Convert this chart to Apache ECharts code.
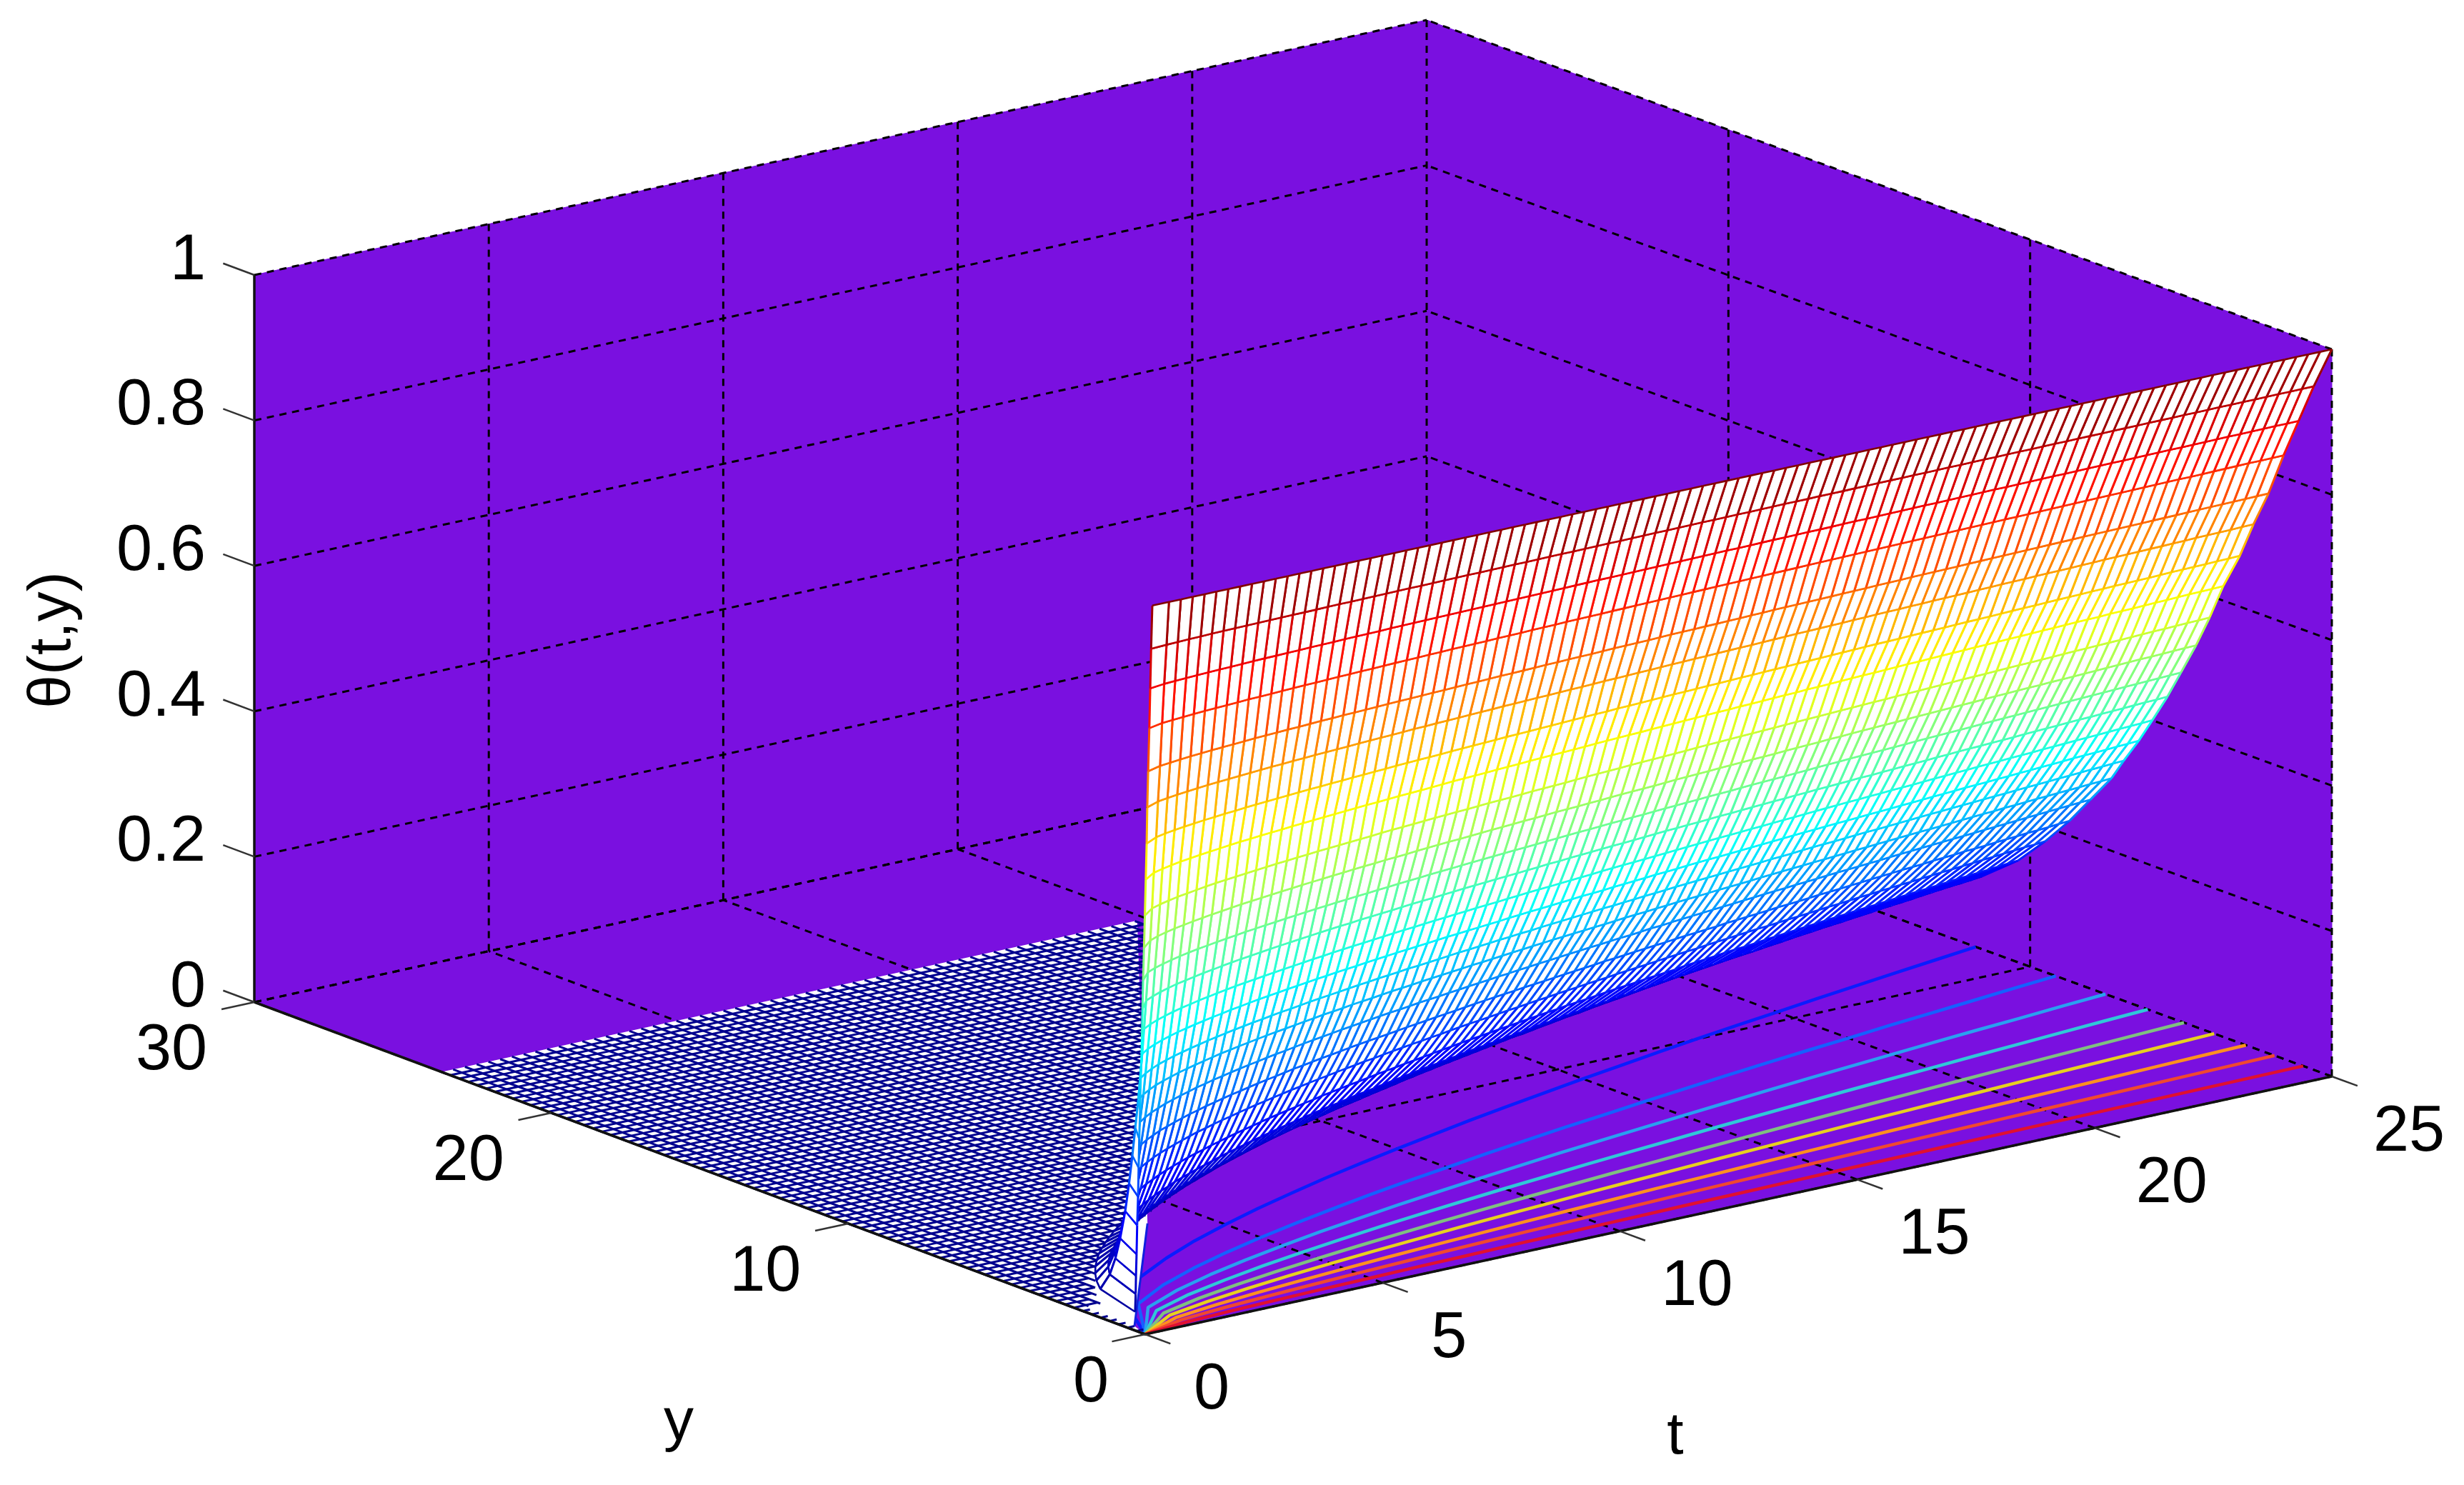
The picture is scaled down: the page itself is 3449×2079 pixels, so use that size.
<!DOCTYPE html>
<html>
<head>
<meta charset="utf-8">
<style>html,body{margin:0;padding:0;background:#fff}#chart{width:3449px;height:2079px}</style>
<script src="https://cdn.jsdelivr.net/npm/echarts@6/dist/echarts.min.js"></script>
</head>
<body>
<div id="chart"></div>
<script>
// axes
const tTicks = [0, 5, 10, 15, 20, 25]
const yTicks = [0, 10, 20, 30]
const zTicks = [0, 0.2, 0.4, 0.6, 0.8, 1]
const zLabels = ['0', '0.2', '0.4', '0.6', '0.8', '1']

// mesh: t of each column, theta of each curve, y (x100) of that curve at each column
const tCols = [0.15,0.5,0.75,1,1.25,1.5,1.75,2,2.25,2.5,2.75,3,3.25,3.5,3.75,4,4.25,4.5,4.75,5,5.25,5.5,5.75,6,6.25,6.5,6.75,7,7.25,7.5,7.75,8,8.25,8.5,8.75,9,9.25,9.5,9.75,10,10.25,10.5,10.75,11,11.25,11.5,11.75,12,12.25,12.5,12.75,13,13.25,13.5,13.75,14,14.25,14.5,14.75,15,15.25,15.5,15.75,16,16.25,16.5,16.75,17,17.25,17.5,17.75,18,18.25,18.5,18.75,19,19.25,19.5,19.75,20,20.25,20.5,20.75,21,21.25,21.5,21.75,22,22.25,22.5,22.75,23,23.25,23.5,23.75,24,24.25,24.5,24.75,25]
const levels = [0.94, 0.885, 0.83, 0.77, 0.72, 0.67, 0.62, 0.57, 0.525, 0.48, 0.44, 0.40, 0.365, 0.33, 0.30, 0.26, 0.22, 0.18, 0.14, 0.10, 0.07, 0.045, 0.02]
const yTable = [
  [4,8,10,12,13,15,16,17,18,19,20,21,22,22,23,24,25,25,26,27,27,28,29,29,30,31,31,32,32,33,33,34,34,35,36,36,36,37,37,38,38,39,39,40,40,41,41,42,42,42,43,43,44,44,45,45,45,46,46,46,47,47,48,48,48,49,49,49,50,50,51,51,51,52,52,52,53,53,53,54,54,54,55,55,55,56,56,56,57,57,57,58,58,58,58,59,59,59,60,60],
  [7,16,19,22,25,27,29,31,33,35,37,38,40,41,43,44,45,47,48,49,50,52,53,54,55,56,57,58,59,60,61,62,63,64,65,66,67,68,69,70,70,71,72,73,74,75,75,76,77,78,79,79,80,81,82,82,83,84,84,85,86,87,87,88,89,89,90,91,91,92,93,93,94,95,95,96,96,97,98,98,99,100,100,101,101,102,103,103,104,104,105,105,106,107,107,108,108,109,109,110],
  [10,23,28,32,36,39,42,45,48,51,53,55,58,60,62,64,66,68,70,72,73,75,77,78,80,82,83,85,86,88,89,91,92,93,95,96,97,99,100,101,102,104,105,106,107,108,110,111,112,113,114,115,116,118,119,120,121,122,123,124,125,126,127,128,129,130,131,132,133,134,135,136,137,138,139,140,140,141,142,143,144,145,146,147,148,148,149,150,151,152,153,153,154,155,156,157,158,158,159,160],
  [14,30,36,42,47,51,56,59,63,66,70,73,76,79,81,84,87,89,92,94,96,98,101,103,105,107,109,111,113,115,117,119,121,122,124,126,128,129,131,133,134,136,138,139,141,142,144,146,147,148,150,151,153,154,156,157,159,160,161,163,164,165,167,168,169,171,172,173,175,176,177,178,179,181,182,183,184,185,187,188,189,190,191,193,194,195,196,197,198,199,200,201,202,204,205,206,207,208,209,210],
  [17,37,45,52,58,64,69,74,78,82,86,90,94,97,101,104,107,110,113,116,119,122,125,127,130,133,135,138,140,142,145,147,149,152,154,156,158,160,162,164,166,168,171,172,174,176,178,180,182,184,186,187,189,191,193,194,196,198,200,202,203,205,206,208,210,211,213,215,216,218,219,221,222,224,225,227,228,230,231,232,234,236,237,238,240,241,243,244,245,247,248,249,251,252,254,255,256,257,259,260],
  [19,43,53,61,68,75,81,86,92,96,101,106,110,114,118,122,126,129,133,136,140,143,146,149,153,156,159,161,164,167,170,173,175,178,181,183,185,188,190,193,195,198,200,202,205,207,209,211,214,216,218,220,222,224,226,228,230,232,234,236,238,240,242,244,246,248,250,252,253,255,257,259,260,262,264,266,267,269,271,273,275,276,278,280,281,283,285,286,288,289,291,292,294,296,297,299,300,302,303,305],
  [22,51,62,72,81,88,95,102,108,114,120,125,130,135,139,144,148,153,157,161,165,169,173,176,180,184,187,190,194,197,201,204,207,210,213,216,219,222,225,228,230,233,236,239,242,244,247,249,252,255,257,260,262,265,267,269,272,274,276,279,281,283,286,288,290,292,295,297,299,301,303,306,307,310,312,314,316,318,320,322,324,326,328,330,332,334,336,338,339,342,343,345,347,349,351,353,355,356,358,360],
  [25,57,70,81,91,99,107,115,122,128,134,140,146,151,157,162,167,172,177,181,185,190,194,198,203,207,211,214,218,222,226,229,232,236,240,243,246,249,253,256,259,262,266,269,272,275,278,281,284,286,289,292,295,298,301,303,306,309,311,314,316,319,322,324,326,329,332,334,337,339,341,344,346,348,351,353,355,358,360,362,365,367,369,371,373,375,378,380,382,384,386,388,390,393,395,397,399,401,403,405],
  [28,63,78,90,101,110,119,127,135,142,149,156,162,168,174,180,185,191,196,201,206,211,216,221,225,230,234,238,243,247,251,255,258,262,266,270,274,277,281,284,288,292,295,298,302,305,309,312,315,318,321,324,328,331,334,337,340,343,346,349,351,354,357,360,363,365,369,371,374,377,379,382,384,387,390,392,395,397,400,402,405,408,410,413,415,417,420,422,424,427,429,432,434,437,439,441,443,446,448,450],
  [31,71,87,100,112,123,133,142,150,158,166,173,181,187,194,200,206,212,218,224,229,235,240,245,250,255,260,265,270,274,279,283,287,292,296,300,304,308,312,316,320,324,328,332,336,339,343,347,350,354,357,361,364,368,371,374,378,381,384,388,391,394,397,400,403,406,410,413,416,419,422,425,427,430,433,436,439,442,445,447,450,453,456,459,461,464,467,469,472,475,477,480,482,485,488,490,493,495,498,500],
  [33,77,94,109,122,134,144,154,164,172,181,189,197,204,211,218,225,231,238,244,250,256,262,267,273,278,283,288,294,299,304,308,313,318,323,327,331,336,340,344,349,353,358,361,366,370,374,378,382,385,389,393,397,401,404,408,411,415,419,422,426,429,433,436,439,443,446,450,453,456,459,463,465,469,472,475,478,481,485,487,491,494,496,500,502,505,508,511,514,517,520,523,525,529,531,534,537,540,542,545],
  [35,84,103,119,133,146,158,168,179,188,198,206,215,223,230,238,245,252,259,266,273,279,286,292,298,303,309,315,321,326,331,337,342,347,352,357,362,367,371,376,381,386,390,394,399,403,408,412,417,421,425,429,433,437,441,445,449,453,457,461,465,468,472,476,480,483,487,491,494,498,502,505,508,512,515,519,522,525,529,532,536,539,542,546,549,552,555,558,561,565,568,571,574,577,580,583,586,589,592,595],
  [37,90,111,128,143,157,170,181,192,202,212,221,231,239,248,256,264,271,279,286,293,300,307,314,320,326,333,339,345,351,356,362,367,373,379,384,389,394,399,404,410,415,420,424,429,434,439,444,448,452,457,461,466,470,475,479,483,488,492,496,500,504,508,512,516,520,524,528,532,536,540,543,547,550,554,558,561,565,569,572,576,580,583,587,590,593,597,600,604,607,611,614,617,621,624,627,630,634,637,640],
  [40,97,119,138,155,169,183,195,207,218,229,239,249,258,267,276,284,293,301,308,316,324,331,338,345,352,359,365,372,378,384,391,396,402,408,414,420,425,431,436,442,447,453,457,463,468,473,478,483,488,493,497,502,507,512,516,521,526,530,535,539,543,548,552,556,560,565,569,573,578,582,586,589,593,598,602,605,609,613,617,621,625,629,633,636,640,644,647,651,655,658,662,665,669,673,676,680,683,687,690],
  [41,103,126,146,164,179,193,207,219,231,242,253,264,273,283,292,301,310,318,326,334,342,350,358,365,372,380,386,393,400,407,413,419,426,432,438,444,450,456,461,467,473,479,484,490,495,501,506,511,516,521,526,531,537,542,546,551,556,561,566,570,575,580,584,588,593,598,602,607,611,615,620,623,628,632,637,640,645,649,653,657,661,665,669,673,677,681,685,688,693,696,700,704,708,712,715,719,723,726,730],
  [44,113,138,160,179,196,212,226,240,253,266,277,289,299,310,320,330,339,349,358,366,375,384,392,400,408,416,423,431,438,446,453,459,466,474,480,486,493,499,506,512,518,525,530,537,542,549,554,560,566,571,577,582,588,594,598,604,610,614,620,625,630,635,640,645,650,655,660,665,670,674,679,683,688,693,698,702,706,711,715,720,725,729,734,738,742,746,750,754,759,763,767,771,776,780,784,788,792,796,800],
  [46,123,151,174,195,213,231,246,261,275,289,301,314,325,337,348,358,369,379,389,398,408,418,426,435,444,452,460,469,477,485,492,499,507,515,522,529,536,543,550,557,564,571,577,584,590,597,603,609,615,621,627,633,639,646,651,657,663,668,674,679,685,691,696,701,706,713,718,723,728,733,739,743,748,753,759,763,768,773,778,783,788,793,798,802,806,812,816,820,826,830,834,839,844,848,853,857,861,866,870],
  [48,134,164,190,213,233,252,269,285,300,315,329,343,355,368,380,391,403,414,425,435,446,456,466,475,485,494,503,512,521,529,538,545,554,562,570,578,585,593,600,608,616,623,630,637,644,652,658,665,672,678,685,692,698,705,711,717,724,730,736,742,748,754,760,766,771,778,784,789,795,801,807,811,817,823,828,833,839,845,849,855,861,865,871,876,881,886,891,896,902,906,911,916,922,926,931,936,941,945,950],
  [51,147,180,208,233,255,276,294,312,329,345,360,375,389,402,416,428,441,453,465,476,488,499,510,520,530,541,550,561,570,579,589,597,606,616,624,632,641,649,657,666,674,682,690,698,705,713,721,728,735,743,750,757,764,772,778,785,792,799,806,812,818,826,832,838,844,852,858,864,870,877,883,888,894,901,907,912,918,925,930,936,942,947,954,959,964,970,976,981,987,992,997,1003,1009,1014,1019,1024,1030,1035,1040],
  [53,164,201,232,260,284,307,328,348,367,385,401,419,434,449,464,478,492,506,519,531,544,557,568,580,592,603,614,625,636,646,657,666,676,687,696,705,715,724,733,742,752,761,769,778,786,796,804,812,820,828,836,844,853,861,868,876,884,891,899,906,913,921,928,935,942,950,957,964,971,978,985,991,998,1005,1012,1017,1024,1031,1037,1044,1051,1057,1064,1070,1075,1082,1088,1094,1101,1107,1112,1118,1125,1131,1137,1143,1148,1154,1160],
  [55,180,221,256,287,314,339,362,384,404,425,443,462,479,495,512,527,543,558,572,586,600,614,627,640,653,666,677,690,701,713,724,735,746,758,768,778,788,799,809,819,829,840,849,859,868,878,887,896,905,914,923,932,941,950,957,966,975,983,992,1000,1007,1016,1024,1032,1039,1048,1056,1064,1071,1079,1087,1093,1101,1108,1116,1123,1130,1138,1144,1152,1160,1166,1174,1180,1187,1194,1201,1207,1215,1221,1228,1234,1242,1248,1254,1261,1267,1274,1280],
  [56,199,244,282,316,345,374,399,423,446,468,488,509,527,546,564,581,598,615,630,646,661,677,691,705,719,733,746,760,773,785,798,809,822,835,846,857,869,880,891,902,914,925,935,946,956,967,977,987,997,1007,1017,1026,1036,1046,1055,1065,1074,1083,1093,1101,1110,1120,1128,1136,1145,1155,1163,1172,1180,1189,1197,1204,1213,1221,1230,1237,1245,1253,1261,1269,1277,1285,1293,1300,1307,1316,1323,1330,1338,1345,1352,1359,1368,1375,1382,1389,1396,1403,1410],
  [58,231,284,328,367,402,435,464,492,518,544,567,592,613,635,656,676,695,715,733,751,769,787,804,820,836,853,868,884,899,913,928,941,956,971,984,997,1010,1023,1036,1050,1063,1076,1087,1100,1112,1125,1137,1148,1159,1171,1182,1194,1205,1217,1227,1238,1250,1260,1271,1281,1291,1302,1312,1322,1332,1343,1353,1363,1373,1383,1392,1401,1410,1420,1430,1438,1448,1458,1466,1476,1486,1494,1504,1512,1520,1530,1538,1547,1556,1565,1573,1581,1591,1599,1607,1615,1624,1632,1640]
]

// contours on the floor, y of each theta level at contourT
const contourT = [0, 1, 2, 3, 4, 5, 6, 7, 8, 9, 10, 11, 12, 13, 14, 15, 16, 17, 18, 19, 20, 21, 22, 23, 24, 25]
const contourLevels = [0.1, 0.2, 0.3, 0.4, 0.5, 0.6, 0.7, 0.8, 0.9]
const contourY = [
  [0,2.36,3.34,4.08,4.72,5.27,5.78,6.24,6.68,7.08,7.46,7.82,8.18,8.51,8.83,9.15,9.44,9.74,10.02,10.29,10.55,10.82,11.07,11.32,11.56,11.8],
  [0,1.83,2.59,3.17,3.66,4.09,4.48,4.84,5.18,5.49,5.78,6.07,6.34,6.6,6.84,7.09,7.32,7.55,7.77,7.98,8.18,8.39,8.58,8.77,8.97,9.15],
  [0,1.5,2.12,2.6,3,3.35,3.68,3.97,4.25,4.5,4.74,4.97,5.2,5.41,5.61,5.81,6,6.19,6.37,6.54,6.71,6.88,7.04,7.19,7.35,7.5],
  [0,1.22,1.73,2.11,2.44,2.73,2.99,3.23,3.45,3.66,3.86,4.04,4.23,4.4,4.56,4.73,4.88,5.03,5.18,5.32,5.45,5.59,5.72,5.85,5.98,6.1],
  [0,0.98,1.39,1.7,1.96,2.19,2.4,2.59,2.77,2.94,3.1,3.25,3.4,3.53,3.67,3.8,3.92,4.04,4.16,4.27,4.38,4.49,4.6,4.7,4.8,4.9],
  [0,0.78,1.1,1.35,1.56,1.74,1.91,2.06,2.21,2.34,2.46,2.59,2.7,2.81,2.92,3.02,3.12,3.22,3.31,3.4,3.49,3.58,3.66,3.74,3.82,3.9],
  [0,0.57,0.81,0.99,1.14,1.27,1.4,1.51,1.61,1.71,1.8,1.89,1.98,2.05,2.13,2.21,2.28,2.35,2.42,2.49,2.55,2.61,2.67,2.73,2.79,2.85],
  [0,0.38,0.54,0.66,0.76,0.85,0.93,1.01,1.08,1.14,1.2,1.26,1.32,1.37,1.42,1.47,1.52,1.57,1.61,1.66,1.7,1.74,1.78,1.82,1.86,1.9],
  [0,0.19,0.27,0.33,0.38,0.42,0.47,0.5,0.54,0.57,0.6,0.63,0.66,0.68,0.71,0.74,0.76,0.78,0.81,0.83,0.85,0.87,0.89,0.91,0.93,0.95]
]
const contourColors = ['#0a1cff', '#1560ff', '#2aa0f0', '#30c8d8', '#80c080', '#e8d020', '#ff9020', '#f04830', '#e01030']

const jet = ['#00008f', '#0000ff', '#0080ff', '#00ffff', '#80ff80', '#ffff00', '#ff8000', '#ff0000', '#800000']
const purple = '#7a10e0'
const floorBlue = '#00008f'
const tMax = 25, yMax = 30, floorYEnd = 23.7, floorTEnd = 14.8, floorStepT = 0.25, floorStepY = 0.3

// box corners on the page, the view is a plain oblique one
const cornerO = [1603, 1868], cornerT = [3264, 1507], cornerY = [356, 1403], cornerTY = [1997, 1046]
const zHeight = 1018

function project(t, y, z) {
  const u = t / tMax, v = y / yMax
  const px = (1 - u) * (1 - v) * cornerO[0] + u * (1 - v) * cornerT[0] + (1 - u) * v * cornerY[0] + u * v * cornerTY[0]
  const py = (1 - u) * (1 - v) * cornerO[1] + u * (1 - v) * cornerT[1] + (1 - u) * v * cornerY[1] + u * v * cornerTY[1]
  return [px, py - z * zHeight]
}

function jetColor(v) {
  return echarts.color.lerp(Math.min(1, Math.max(0, v)), jet)
}

// one custom series drawing one polyline or polygon per item
function shapes(name, items, draw) {
  return {
    name, type: 'custom', coordinateSystem: 'cartesian2d', animation: false, silent: true,
    progressive: 0, clip: false,
    data: items.map((_, i) => [i]),
    renderItem(params, api) {
      return draw(items[params.dataIndex], p => api.coord(project(p[0], p[1], p[2])), api)
    }
  }
}
function lineSeries(name, lines, style) {
  return shapes(name, lines, (pts, pr) => ({
    type: 'polyline', shape: { points: pts.map(pr) },
    style: Object.assign({ fill: null, lineJoin: 'round' }, style)
  }))
}

// box
const walls = [
  [[0, 0, 0], [tMax, 0, 0], [tMax, yMax, 0], [0, yMax, 0]],
  [[0, yMax, 0], [tMax, yMax, 0], [tMax, yMax, 1], [0, yMax, 1]],
  [[tMax, 0, 0], [tMax, yMax, 0], [tMax, yMax, 1], [tMax, 0, 1]]
]
const gridLines = []
tTicks.forEach(t => {
  gridLines.push([[t, 0, 0], [t, yMax, 0]])
  if (t > 0) gridLines.push([[t, yMax, 0], [t, yMax, 1]])
})
yTicks.forEach(y => {
  if (y < yMax) gridLines.push([[0, y, 0], [tMax, y, 0]])
  if (y < yMax) gridLines.push([[tMax, y, 0], [tMax, y, 1]])
})
gridLines.push([[0, yMax, 0], [tMax, yMax, 0]])
zTicks.forEach(z => {
  gridLines.push([[0, yMax, z], [tMax, yMax, z]])
  gridLines.push([[tMax, 0, z], [tMax, yMax, z]])
})
const frontEdges = [
  [[0, 0, 0], [tMax, 0, 0]],
  [[0, 0, 0], [0, yMax, 0]],
  [[0, yMax, 0], [0, yMax, 1]]
]
const tickLines = []
tTicks.forEach(t => tickLines.push([[t, 0, 0], [t, -0.85, 0]]))
yTicks.forEach(y => tickLines.push([[0, y, 0], [-0.7, y, 0]]))
zTicks.forEach(z => tickLines.push([[0, yMax, z], [0, yMax + 1.05, z]]))

// contours
const contourLines = contourY.map(row => row.map((y, i) => [contourT[i], y, 0]))

// far part of the surface, flat on the floor
const lastRow = yTable[yTable.length - 1]
function rowStart(t) {
  const i = tCols.findIndex(c => c >= t)
  return lastRow[i < 0 ? lastRow.length - 1 : i] / 100
}
function rowEnd(y) {
  let end = tCols[0]
  tCols.forEach((c, i) => { if (lastRow[i] / 100 <= y) end = c })
  return end
}
const floorFill = [[[0, 0, 0], [0, floorYEnd, 0], [floorTEnd, floorYEnd, 0], [4, 6.3, 0], [0.15, 0.6, 0]]]
const floorLines = []
for (let t = 0; t <= floorTEnd; t += floorStepT) floorLines.push([[t, t > 0 ? rowStart(t) : 0, 0], [t, floorYEnd, 0]])
for (let y = floorStepY; y <= floorYEnd; y += floorStepY) floorLines.push([[0, y, 0], [Math.min(floorTEnd, rowEnd(y)), y, 0]])
const floorEdge = [[[4, 6.3, 0], [0.15, 0.6, 0]]]

// surface quads, far ones first
function vertex(k, i) {
  return k === 0 ? [tCols[i], 0, 1] : [tCols[i], yTable[k - 1][i] / 100, levels[k - 1]]
}
const quads = []
for (let k = levels.length - 1; k >= 0; k--) {
  for (let i = tCols.length - 2; i >= 0; i--) quads.push([k, i])
}

const tickLabels = []
tTicks.forEach(t => {
  const p = project(t, 0, 0), s = String(t)
  tickLabels.push({ p: [p[0] + (s.length > 1 ? 108 : 93), p[1] + 79], s, align: 'center' })
})
yTicks.forEach(y => {
  const p = project(0, y, 0), s = String(y)
  tickLabels.push({ p: [p[0] - (s.length > 1 ? 116 : 76), p[1] + 69], s, align: 'center' })
})
zTicks.forEach((z, i) => {
  const p = project(0, yMax, z)
  tickLabels.push({ p: [p[0] - 68, p[1] - 19], s: zLabels[i], align: 'right' })
})
const axisNames = [
  { p: [950, 1993], s: 'y', rotation: 0 },
  { p: [2345, 2012], s: 't', rotation: 0 },
  { p: [75, 896], s: 'θ(t,y)', rotation: Math.PI / 2 }
]

const fontFamily = '"Liberation Sans", Arial, sans-serif'

const chart = echarts.init(document.getElementById('chart'), null, { renderer: 'canvas' })
chart.setOption({
  animation: false,
  backgroundColor: '#fff',
  grid: { left: 0, right: 0, top: 0, bottom: 0 },
  xAxis: { type: 'value', min: 0, max: 3449, show: false },
  yAxis: { type: 'value', min: 0, max: 2079, inverse: true, show: false },
  series: [
    shapes('walls', walls, (pts, pr) => ({
      type: 'polygon', shape: { points: pts.map(pr) }, style: { fill: purple, stroke: purple, lineWidth: 1 }
    })),
    lineSeries('grid', gridLines, { stroke: '#000', lineWidth: 3, lineDash: [10, 8] }),
    shapes('contours', contourLines, (pts, pr) => ({
      type: 'polyline', shape: { points: pts.map(pr) },
      style: { fill: null, lineWidth: 4.5, lineJoin: 'round', stroke: contourColors[contourLines.indexOf(pts)] }
    })),
    shapes('floorFill', floorFill, (pts, pr) => ({
      type: 'polygon', shape: { points: pts.map(pr) }, style: { fill: '#fff' }
    })),
    lineSeries('floorMesh', floorLines, { stroke: floorBlue, lineWidth: 3 }),
    lineSeries('floorEdge', floorEdge, { stroke: '#1020e0', lineWidth: 3 }),
    lineSeries('front', frontEdges, { stroke: '#111', lineWidth: 3.5 }),
    shapes('surface', quads, (q, pr) => {
      const k = q[0], i = q[1]
      const a = vertex(k, i), b = vertex(k, i + 1), c = vertex(k + 1, i + 1), d = vertex(k + 1, i)
      const edge = (p, r, w) => ({
        type: 'polyline', shape: { points: [pr(p), pr(r)] },
        style: { fill: null, stroke: jetColor((p[2] + r[2]) / 2), lineWidth: w }
      })
      return {
        type: 'group',
        children: [
          { type: 'polygon', shape: { points: [a, b, c, d].map(pr) }, style: { fill: '#fff' } },
          edge(a, d, 3), edge(b, c, 3), edge(a, b, 2.6), edge(d, c, 2.6)
        ]
      }
    }),
    lineSeries('ticks', tickLines, { stroke: '#333', lineWidth: 2.5 }),
    {
      name: 'tickLabels', type: 'custom', coordinateSystem: 'cartesian2d', animation: false, silent: true, clip: false,
      data: tickLabels.map((_, i) => [i]),
      renderItem(params, api) {
        const l = tickLabels[params.dataIndex], c = api.coord(l.p)
        return {
          type: 'text', x: c[0], y: c[1],
          style: { text: l.s, fill: '#000', font: '90px ' + fontFamily, textAlign: l.align, textVerticalAlign: 'middle' }
        }
      }
    },
    {
      name: 'axisNames', type: 'custom', coordinateSystem: 'cartesian2d', animation: false, silent: true, clip: false,
      data: axisNames.map((_, i) => [i]),
      renderItem(params, api) {
        const l = axisNames[params.dataIndex], c = api.coord(l.p)
        return {
          type: 'text', x: c[0], y: c[1], rotation: l.rotation,
          style: { text: l.s, fill: '#000', font: '84px ' + fontFamily, textAlign: 'center', textVerticalAlign: 'middle' }
        }
      }
    }
  ]
})
</script>
</body>
</html>
